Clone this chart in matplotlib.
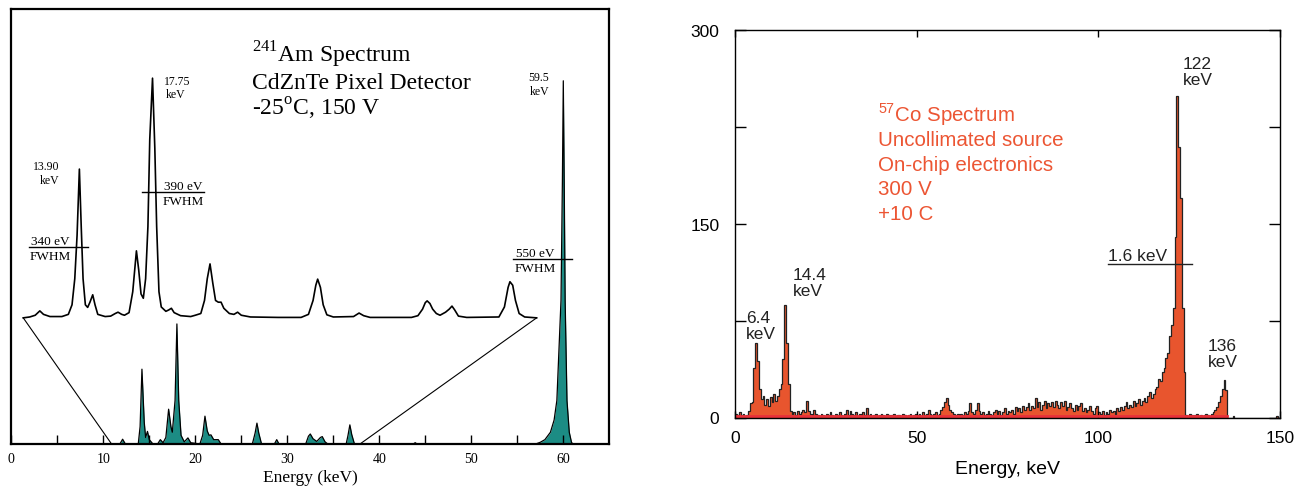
import matplotlib.pyplot as plt
import numpy as np

plt.rcParams['mathtext.fontset'] = 'custom'
plt.rcParams['mathtext.rm'] = 'Liberation Serif'
plt.rcParams['mathtext.sf'] = 'Liberation Sans'

SERIF = 'Liberation Serif'
SANS = 'Liberation Sans'
TEAL = '#1c8c84'
ORANGE = '#e8552e'
RED_TXT = '#ec5533'
RED_LINE = '#e8303a'

# ---- 241Am spectrum, full range (height in arbitrary units, 0-100 = frame)
am_energy = [0, 11.8, 12.1, 12.4, 13.8, 14.0, 14.2, 14.45, 14.6, 14.8, 15.0, 15.4,
             15.9, 16.2, 16.5, 16.8, 17.1, 17.35, 17.5, 17.8, 18.0, 18.2, 18.45,
             18.8, 19.2, 19.5, 20.5, 20.8, 21.05, 21.3, 21.5, 21.7, 22.0, 22.5,
             22.8, 26.2, 26.5, 26.7, 26.9, 27.2, 28.6, 28.85, 29.1, 32.0, 32.3,
             32.5, 32.8, 33.2, 33.6, 33.8, 34.1, 34.4, 36.4, 36.6, 36.8, 37.0,
             37.3, 43.7, 43.9, 44.1, 57.0, 57.5, 58.0, 58.6, 59.0, 59.3, 59.75,
             59.9, 60.0, 60.1, 60.2, 60.4, 60.65, 60.9, 61.1, 65]
am_height = [0, 0, 1.1, 0, 0, 4, 17.2, 5, 1.5, 2.9, 1, 0,
             0, 1.0, 0.3, 1.5, 8.0, 4, 2.7, 10, 27.6, 10, 2,
             0.5, 1.4, 0.3, 0, 2, 6.4, 3, 2, 2.1, 1.0, 1.0,
             0, 0, 2.5, 4.8, 2.5, 0, 0, 1.0, 0, 0, 1.8,
             2.3, 1.2, 0.6, 1.5, 1.7, 0.5, 0, 0, 2.0, 4.4, 2.2,
             0, 0, 0.3, 0, 0, 0.4, 1.0, 2.7, 5.5, 10, 33,
             60, 83.5, 60, 33, 10, 2.7, 0.3, 0, 0]

# magnified low-energy trace drawn above the full spectrum
inset_energy = [1.3, 2.0, 2.6, 3.1, 3.5, 4.2, 5.5, 6.2, 6.6, 6.9, 7.15, 7.4, 7.6, 7.8,
                8.05, 8.3, 8.55, 8.85, 9.1, 9.4, 10.2, 10.8, 11.3, 11.6, 12.0, 12.3,
                12.8, 13.2, 13.6, 13.85, 14.1, 14.35, 14.6, 14.85, 15.05, 15.35, 15.6,
                15.8, 16.05, 16.3, 16.8, 17.1, 17.4, 17.7, 18.4, 19.5, 20.0, 20.6,
                21.0, 21.3, 21.6, 21.9, 22.2, 22.5, 22.8, 23.1, 23.7, 24.2, 24.6,
                25.0, 26.0, 29.0, 31.5, 32.3, 32.8, 33.1, 33.3, 33.6, 33.9, 34.3,
                35.0, 37.2, 37.8, 38.3, 39.0, 43.5, 44.2, 44.7, 45.0, 45.2, 45.5,
                45.8, 46.2, 46.6, 47.2, 47.6, 47.9, 48.2, 48.6, 49.5, 53.0, 53.6,
                54.0, 54.2, 54.5, 54.8, 55.2, 55.8, 57.1]
inset_height = [29.0, 29.2, 29.6, 30.6, 29.8, 29.3, 29.3, 29.8, 32, 38, 48, 63.2, 50, 38,
                32, 31.4, 32.6, 34.3, 32.0, 29.8, 29.3, 29.4, 30.0, 30.3, 29.8, 29.6,
                30.2, 35, 44.4, 40, 34.5, 33.5, 38, 50, 70, 84.1, 68,
                50, 35, 31.5, 30.5, 30.8, 31.2, 30.2, 29.5, 29.3, 29.6, 30.0,
                33, 38, 41.4, 37, 33, 32.6, 32.6, 31.2, 30.0, 29.8, 30.3,
                29.6, 29.2, 29.1, 29.1, 29.8, 33, 36.5, 37.9, 36, 32, 29.7,
                29.2, 29.3, 30.1, 29.5, 29.1, 29.1, 29.5, 31.0, 32.5, 32.9, 32.3,
                31.0, 30.0, 29.6, 30.3, 31.0, 31.7, 30.8, 29.4, 29.1, 29.2, 31.5,
                36, 37.3, 36.5, 33, 30, 29.2, 29.0]

# lines joining the magnified trace to the energy range it shows
link_left_E = [1.3, 10.9]
link_left_h = [29.0, 0]
link_right_E = [57.1, 37.9]
link_right_h = [29.0, 0]

am_title = [r'$^{241}$Am Spectrum', 'CdZnTe Pixel Detector', r'-25$^{\rm o}$C, 150 V']
am_peak_labels = [('13.90', 3.77, 64.0), ('keV', 4.2, 60.8),
                  ('17.75', 18.0, 83.5), ('keV', 17.83, 80.5),
                  ('59.5', 57.3, 84.3), ('keV', 57.4, 81.1)]
# (upper text, lower text, x of text, y upper, y lower, line x0, line x1, line y)
am_fwhm = [('340 eV', 'FWHM', 4.2, 46.7, 43.3, 1.96, 8.37, 45.4),
           ('390 eV', 'FWHM', 18.65, 59.2, 55.9, 14.17, 20.95, 57.9),
           ('550 eV', 'FWHM', 56.9, 43.9, 40.4, 54.57, 60.9, 42.5)]

# ---- 57Co spectrum, 0.5 keV bins from 0 to 150 keV
co_edges = np.arange(0, 150.5, 0.5)
co_counts = [
    3, 2, 4, 2, 3, 1, 2, 5, 11, 12, 38, 58, 44, 22, 14, 17, 10, 14, 9, 16,          # 0-10
    12, 18, 13, 17, 22, 26, 45, 87, 58, 26, 5, 3, 4, 2, 5, 3, 4, 6, 4, 13,          # 10-20
    5, 3, 2, 6, 3, 2, 1, 3, 2, 1, 3, 2, 4, 2, 1, 3, 2, 4, 2, 1,                     # 20-30
    3, 6, 2, 5, 3, 2, 4, 1, 3, 2, 4, 2, 7, 2, 3, 1, 2, 3, 1, 2,                     # 30-40
    3, 2, 1, 3, 2, 1, 2, 3, 1, 2, 2, 1, 3, 2, 1, 2, 3, 1, 2, 3,                     # 40-50
    2, 3, 1, 4, 2, 3, 6, 3, 2, 3, 4, 2, 3, 6, 8, 12, 15, 10, 6, 4,                  # 50-60
    3, 2, 3, 2, 3, 2, 4, 3, 5, 11, 4, 3, 6, 11, 5, 3, 4, 2, 3, 5,                   # 60-70
    3, 2, 4, 6, 3, 5, 2, 4, 7, 3, 5, 4, 6, 3, 8, 5, 7, 4, 9, 6,                     # 70-80
    8, 11, 6, 9, 7, 15, 8, 12, 6, 10, 13, 7, 11, 9, 12, 8, 13, 10, 7, 12,           # 80-90
    9, 13, 6, 8, 11, 7, 5, 10, 6, 9, 11, 5, 7, 4, 6, 9, 5, 3, 7, 9,                 # 90-100
    4, 3, 5, 2, 4, 3, 6, 4, 5, 3, 7, 5, 8, 6, 9, 12, 7, 10, 8, 13,                  # 100-110
    9, 11, 14, 10, 13, 15, 12, 17, 20, 15, 18, 22, 24, 30, 28, 35, 38, 46, 50, 63,  # 110-120
    72, 85, 140, 249, 210, 170, 85, 35, 2, 1, 3, 2, 1, 2, 3, 1, 2, 1, 2, 3,         # 120-130
    2, 1, 3, 4, 6, 8, 12, 17, 22, 29, 21, 0, 0, 0, 1, 0, 0, 0, 0, 0,                # 130-140
    0, 0, 0, 0, 0, 0, 0, 0, 0, 0, 0, 0, 0, 0, 0, 0, 0, 0, 1, 0,                     # 140-150
]
co_base_E = [0, 135.5]
co_base_C = [1.2, 1.2]

co_notes = [r'$^{\mathsf{57}}$Co Spectrum', 'Uncollimated source',
            'On-chip electronics', '300 V', '+10 C']
co_peak_labels = [('6.4\nkeV', 2.9, 71.5, 'left'), ('14.4\nkeV', 15.9, 104.5, 'left'),
                  ('122\nkeV', 127.3, 268.3, 'center'), ('136\nkeV', 134.2, 49.8, 'center')]
co_fwhm_text = ('1.6 keV', 102.8, 125.7)
co_fwhm_line_E = [102.8, 125.7]
co_fwhm_line_C = [119.2, 119.2]

fig = plt.figure(figsize=(12.99, 4.89), dpi=100)

# ---------------- left: 241Am ----------------
ax1 = fig.add_axes([11.3 / 1299, 44 / 489, 598 / 1299, 435 / 489])
ax1.fill_between(am_energy, am_height, color=TEAL, lw=0)
ax1.plot(am_energy, am_height, color='black', lw=0.9)
ax1.plot(inset_energy, inset_height, color='black', lw=1.2)
ax1.plot(link_left_E, link_left_h, color='black', lw=0.8)
ax1.plot(link_right_E, link_right_h, color='black', lw=0.8)
ax1.set_xlim(0, 65)
ax1.set_ylim(0, 100)

for i, line in enumerate(am_title):
    ax1.text(26.2, 87.9 - 6.1 * i, line, fontfamily=SERIF, fontsize=17,
             ha='left', va='baseline')
for txt, x, y in am_peak_labels:
    ax1.text(x, y, txt, fontfamily=SERIF, fontsize=8.5, ha='center', va='center')
for top, bot, x, y1, y2, x0, x1, yl in am_fwhm:
    ax1.text(x, y1, top, fontfamily=SERIF, fontsize=9.5, ha='center', va='center')
    ax1.text(x, y2, bot, fontfamily=SERIF, fontsize=9.5, ha='center', va='center')
    ax1.plot([x0, x1], [yl, yl], color='black', lw=1)

ax1.set_xticks(range(0, 61, 10), labels=[str(t) for t in range(0, 61, 10)],
               fontfamily=SERIF, fontsize=10)
ax1.set_xticks(range(5, 61, 10), minor=True)
ax1.tick_params(axis='x', which='both', direction='in', length=6.5, width=1, pad=5.5)
ax1.set_yticks([])
for sp in ax1.spines.values():
    sp.set_linewidth(1.6)
ax1.set_xlabel('Energy (keV)', fontfamily=SERIF, fontsize=12.5, labelpad=3.5)

# ---------------- right: 57Co ----------------
ax2 = fig.add_axes([735.3 / 1299, 70.5 / 489, 544.5 / 1299, 387.1 / 489])
ax2.stairs(co_counts, co_edges, fill=True, color=ORANGE, lw=0)
ax2.plot(co_base_E, co_base_C, color=RED_LINE, lw=2)
ax2.stairs(co_counts, co_edges, color='#222222', lw=0.9)
ax2.set_xlim(0, 150)
ax2.set_ylim(0, 300)

for i, line in enumerate(co_notes):
    ax2.text(39.4, 230.3 - 19.1 * i, line, color=RED_TXT, fontfamily=SANS,
             fontsize=14.8, ha='left', va='baseline')
for txt, x, y, ha in co_peak_labels:
    ax2.text(x, y, txt, color='#222222', fontfamily=SANS, fontsize=12.5,
             ha=ha, va='center', linespacing=1.1)
ax2.text(co_fwhm_text[1], co_fwhm_text[2], co_fwhm_text[0], color='#222222',
         fontfamily=SANS, fontsize=12.5, ha='left', va='center')
ax2.plot(co_fwhm_line_E, co_fwhm_line_C, color='#222222', lw=1)

ax2.set_xticks([0, 50, 100, 150], labels=['0', '50', '100', '150'],
               fontfamily=SANS, fontsize=12.5)
ax2.set_yticks([0, 75, 150, 225, 300], labels=['0', '', '150', '', '300'],
               fontfamily=SANS, fontsize=12.5)
ax2.tick_params(axis='x', direction='in', top=True, length=5, width=1, pad=9)
ax2.tick_params(axis='y', direction='in', right=True, length=8, width=1, pad=11.5)
for sp in ax2.spines.values():
    sp.set_linewidth(1.0)
ax2.set_xlabel('Energy, keV', fontfamily=SANS, fontsize=14, labelpad=11)

fig.savefig('out.png', dpi=100)
